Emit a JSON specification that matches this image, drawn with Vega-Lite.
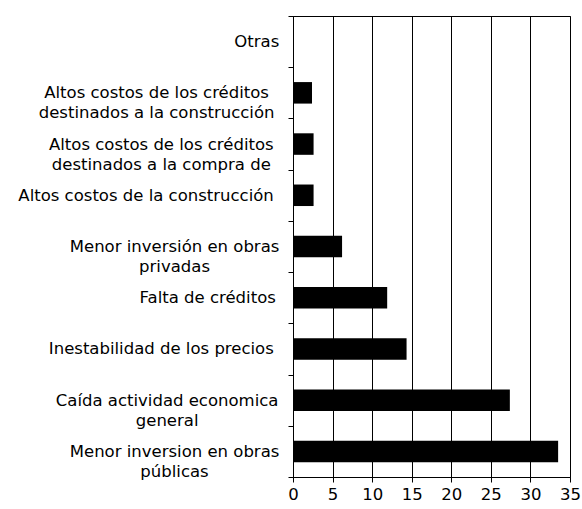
{
  "$schema": "https://vega.github.io/schema/vega-lite/v6.json",
  "width": 277,
  "height": 461,
  "autosize": {"type": "none"},
  "padding": {"left": 293, "top": 16, "right": 12, "bottom": 32},
  "background": "white",
  "data": {
    "values": [
      {"causa": "Otras", "valor": 0},
      {"causa": "Altos costos de los créditos|destinados a la construcción", "valor": 2.4},
      {"causa": "Altos costos de los créditos|destinados a la compra de", "valor": 2.6},
      {"causa": "Altos costos de la construcción", "valor": 2.6},
      {"causa": "Menor inversión en obras|privadas", "valor": 6.2},
      {"causa": "Falta de créditos", "valor": 11.9},
      {"causa": "Inestabilidad de los precios", "valor": 14.35},
      {"causa": "Caída actividad economica|general", "valor": 27.4},
      {"causa": "Menor inversion en obras|públicas", "valor": 33.5}
    ]
  },
  "mark": {"type": "bar", "color": "black", "height": {"band": 0.42}},
  "encoding": {
    "y": {
      "field": "causa",
      "type": "nominal",
      "sort": null,
      "scale": {"paddingInner": 0, "paddingOuter": 0},
      "axis": {
        "title": null,
        "tickBand": "extent",
        "ticks": true,
        "tickSize": 5,
        "tickColor": "black",
        "domainColor": "black",
        "grid": false,
        "labelAlign": "center",
        "labelBaseline": "middle",
        "labelPadding": {"expr": "11 + 0.5 * 16.5 * max(0.33 * length(split(datum.value, '|')[0]) + 0.285 * length(replace(split(datum.value, '|')[0], regexp('[iíltrI ]', 'g'), '')), 0.33 * length(split(datum.value, '|')[1] || '') + 0.285 * length(replace(split(datum.value, '|')[1] || '', regexp('[iíltrI ]', 'g'), '')))"},
        "labelLimit": 0,
        "labelFont": "DejaVu Sans",
        "labelFontSize": 16.5,
        "labelColor": "black",
        "labelLineHeight": 20,
        "labelExpr": "split(datum.label, '|')"
      }
    },
    "x": {
      "field": "valor",
      "type": "quantitative",
      "scale": {"domain": [0, 35], "nice": false},
      "axis": {
        "title": null,
        "values": [0, 5, 10, 15, 20, 25, 30, 35],
        "grid": true,
        "gridColor": "black",
        "gridOpacity": 1,
        "gridWidth": 1,
        "tickSize": 5,
        "tickColor": "black",
        "domainColor": "black",
        "labelFont": "DejaVu Sans",
        "labelFontSize": 16.5,
        "labelColor": "black",
        "labelPadding": 4,
        "labelFlush": false,
        "labelOverlap": false
      }
    }
  },
  "config": {"view": {"stroke": "black", "strokeWidth": 1}}
}
